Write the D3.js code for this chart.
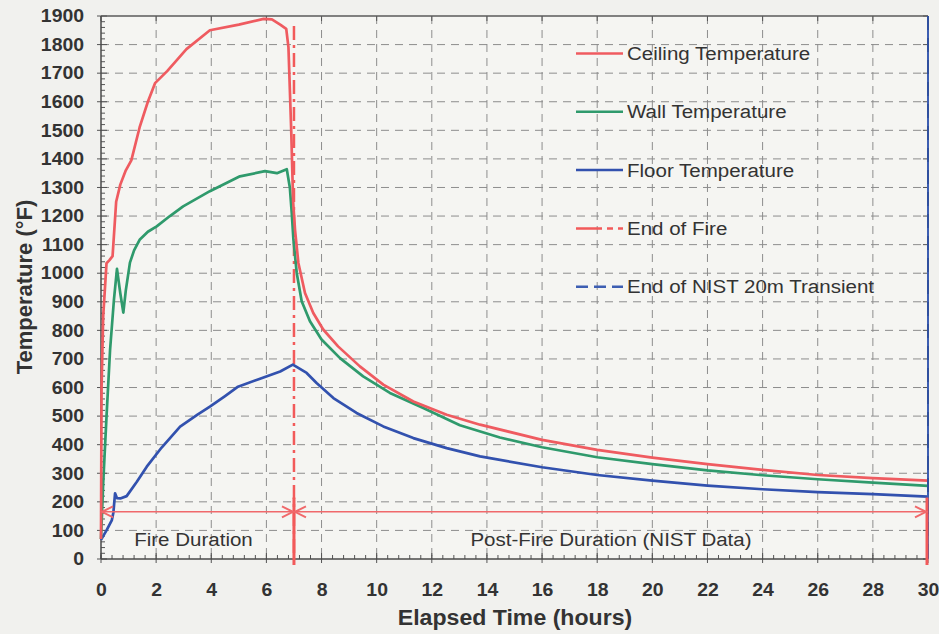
<!DOCTYPE html>
<html><head><meta charset="utf-8">
<script src="https://cdn.jsdelivr.net/npm/d3@7"></script>
<style>
html,body{margin:0;padding:0;background:#f1f1ee;}
svg{display:block;font-family:"Liberation Sans",Arial,sans-serif;}
</style></head><body>
<svg id="chart" width="939" height="634"></svg>
<script>
// ---- data (hours, °F) ----
const ceilingData = [[0,70],[0.02,600],[0.08,850],[0.2,1035],[0.3,1045],[0.42,1060],[0.55,1250],[0.7,1310],[0.9,1360],[1.1,1395],[1.4,1510],[1.7,1600],[1.96,1665],[2.4,1707],[3.1,1784],[3.95,1850],[5.0,1870],[5.9,1890],[6.2,1888],[6.5,1870],[6.72,1855],[6.8,1790],[6.9,1500],[6.97,1250],[7.04,1150],[7.16,1036],[7.4,931],[7.7,861],[8.06,803],[8.6,744],[9.39,674],[10.24,610],[11.33,551],[12.54,505],[13.75,470],[16,417],[18,382],[20,355],[22,332],[24,312],[26,294],[28,283],[30,274]];
const wallData = [[0,70],[0.08,266],[0.2,498],[0.33,733],[0.47,908],[0.58,1015],[0.7,930],[0.81,862],[0.9,940],[1.05,1037],[1.2,1080],[1.41,1118],[1.7,1145],[2.02,1164],[2.5,1200],[2.98,1234],[3.95,1287],[5.04,1339],[5.95,1357],[6.38,1350],[6.74,1364],[6.85,1300],[6.92,1210],[6.98,1118],[7.1,1001],[7.28,902],[7.58,832],[8.0,768],[8.67,703],[9.51,639],[10.48,581],[11.69,528],[13.02,468],[14.47,425],[16,391],[18,356],[20,332],[22,310],[24,293],[26,279],[28,267],[30,256]];
const floorData = [[0,67],[0.2,100],[0.39,135],[0.45,163],[0.51,230],[0.58,213],[0.7,212],[0.93,220],[1.3,270],[1.66,323],[2.2,390],[2.87,463],[3.5,505],[3.95,533],[4.5,570],[4.97,603],[5.77,631],[6.5,656],[6.96,680],[7.46,651],[7.82,616],[8.43,563],[9.27,511],[10.24,464],[11.33,423],[12.54,388],[13.75,359],[16,321],[18,294],[20,274],[22,257],[24,244],[26,234],[28,227],[30,218]];
const xTicks = [0,2,4,6,8,10,12,14,16,18,20,22,24,26,28,30];
const yTicks = [0,100,200,300,400,500,600,700,800,900,1000,1100,1200,1300,1400,1500,1600,1700,1800,1900];
const legendNames = ["Ceiling Temperature","Wall Temperature","Floor Temperature","End of Fire","End of NIST 20m Transient"];
const fireEnd = 7, nistEnd = 30, arrowTemp = 165, endFireTop = 1865, markerTop = 215;
const durationLabels = ["Fire Duration","Post-Fire Duration (NIST Data)"];

// ---- styles ----
const C = {ceil:"#ef5b60", wall:"#2f9a6c", floor:"#3251ae", fire:"#f25a5a", nist:"#3d5eb2", arrow:"#f0696b", grid:"#8d8d8d", text:"#333333"};
const SX = 1.08;

const svg = d3.select("#chart");
const x = d3.scaleLinear().domain([0,30]).range([101,928]);
const y = d3.scaleLinear().domain([0,1900]).range([559,16]);

svg.append("rect").attr("width",939).attr("height",634).attr("fill","#f1f1ee");
svg.append("rect").attr("x",x(0)).attr("y",y(1900)).attr("width",x(30)-x(0)).attr("height",y(0)-y(1900)).attr("fill","#f5f5f2");

// grid
const g = svg.append("g");
g.selectAll(".gv").data(xTicks.filter(d=>d>0&&d<30)).join("line")
  .attr("x1",d=>x(d)).attr("x2",d=>x(d)).attr("y1",y(1900)).attr("y2",y(0))
  .attr("stroke",C.grid).attr("stroke-width",1).attr("stroke-dasharray","8,6");
g.selectAll(".gh").data(yTicks.filter(d=>d>0&&d<1900)).join("line")
  .attr("x1",x(0)).attr("x2",x(30)).attr("y1",d=>y(d)).attr("y2",d=>y(d))
  .attr("stroke",C.grid).attr("stroke-width",1).attr("stroke-dasharray","8,6");

// minor ticks
const minorY = d3.range(0,1901,20);
g.selectAll(".my").data(minorY).join("line")
  .attr("x1",x(0)).attr("x2",d=>x(0)+(d%100===0?6:4)).attr("y1",d=>y(d)).attr("y2",d=>y(d))
  .attr("stroke","#555").attr("stroke-width",1);
const minorX = d3.range(0,30.01,0.4);
g.selectAll(".mx").data(minorX).join("line")
  .attr("x1",d=>x(d)).attr("x2",d=>x(d)).attr("y1",y(0)).attr("y2",y(0)-4)
  .attr("stroke","#555").attr("stroke-width",1);
g.selectAll(".tx").data(xTicks).join("line")
  .attr("x1",d=>x(d)).attr("x2",d=>x(d)).attr("y1",y(0)+4).attr("y2",y(0)-6)
  .attr("stroke","#555").attr("stroke-width",1);
g.selectAll(".tt").data(xTicks).join("line")
  .attr("x1",d=>x(d)).attr("x2",d=>x(d)).attr("y1",y(1900)).attr("y2",y(1900)+5)
  .attr("stroke","#555").attr("stroke-width",1);
g.selectAll(".tr").data(yTicks).join("line")
  .attr("x1",x(30)).attr("x2",x(30)-5).attr("y1",d=>y(d)).attr("y2",d=>y(d))
  .attr("stroke","#555").attr("stroke-width",1);
g.selectAll(".tl").data(yTicks).join("line")
  .attr("x1",x(0)-4).attr("x2",x(0)).attr("y1",d=>y(d)).attr("y2",d=>y(d))
  .attr("stroke","#555").attr("stroke-width",1);

// axes (labels)
const ya = svg.append("g").attr("transform",`translate(${x(0)},0)`)
  .call(d3.axisLeft(y).tickValues(yTicks).tickSize(0).tickPadding(15.7).tickFormat(d3.format("d")));
ya.select(".domain").remove();
ya.selectAll("text").attr("font-size",18).attr("font-weight","bold").attr("fill",C.text)
  .attr("font-family","Liberation Sans, Arial, sans-serif").attr("transform",`scale(${SX},1)`);
const xa = svg.append("g").attr("transform",`translate(0,${y(0)})`)
  .call(d3.axisBottom(x).tickValues(xTicks).tickSize(0).tickPadding(24).tickFormat(d3.format("d")));
xa.select(".domain").remove();
xa.selectAll("text").attr("font-size",18).attr("font-weight","bold").attr("fill",C.text)
  .attr("font-family","Liberation Sans, Arial, sans-serif").attr("transform",`scale(${SX},1)`);

// frame
svg.append("line").attr("x1",x(0)).attr("x2",x(30)).attr("y1",y(1900)).attr("y2",y(1900)).attr("stroke","#5a5a5a").attr("stroke-width",1.5);
svg.append("line").attr("x1",x(0)).attr("x2",x(0)).attr("y1",y(1900)).attr("y2",y(0)).attr("stroke","#4a4a4a").attr("stroke-width",1.5);
svg.append("line").attr("x1",x(0)).attr("x2",x(30)).attr("y1",y(0)).attr("y2",y(0)).attr("stroke","#4a4a4a").attr("stroke-width",1.5);

// end of fire (dash-dot)
svg.append("line").attr("x1",x(fireEnd)).attr("x2",x(fireEnd)).attr("y1",y(endFireTop)).attr("y2",y(0))
  .attr("stroke",C.fire).attr("stroke-width",2.5).attr("stroke-dasharray","14,5,3,5");

// curves
const line = d3.line().x(d=>x(d[0])).y(d=>y(d[1]));
[[floorData,C.floor],[wallData,C.wall],[ceilingData,C.ceil]].forEach(([d,c])=>{
  svg.append("path").datum(d).attr("d",line).attr("fill","none").attr("stroke",c).attr("stroke-width",2.7).attr("stroke-linejoin","round");
});

// end of NIST transient (right border)
svg.append("line").attr("x1",x(nistEnd)).attr("x2",x(nistEnd)).attr("y1",y(1900)).attr("y2",y(0))
  .attr("stroke",C.nist).attr("stroke-width",2);
svg.append("line").attr("x1",x(nistEnd)).attr("x2",x(nistEnd)).attr("y1",y(1900)).attr("y2",y(0))
  .attr("stroke","#2f4f9e").attr("stroke-width",2).attr("stroke-dasharray","14,8");

// duration markers
[fireEnd,nistEnd].forEach(t=>{
  svg.append("line").attr("x1",x(t)-(t===nistEnd?1:0)).attr("x2",x(t)-(t===nistEnd?1:0)).attr("y1",y(markerTop)).attr("y2",y(0)+6)
    .attr("stroke",C.fire).attr("stroke-width",3);
});
const ay = y(arrowTemp);
svg.append("line").attr("x1",x(0)).attr("x2",x(fireEnd)).attr("y1",ay).attr("y2",ay).attr("stroke",C.arrow).attr("stroke-width",1.5);
svg.append("line").attr("x1",x(fireEnd)).attr("x2",x(nistEnd)).attr("y1",ay).attr("y2",ay).attr("stroke",C.arrow).attr("stroke-width",1.5);
function head(px,dir){ // dir: +1 pointing right, -1 left
  svg.append("path").attr("d",`M${px-dir*11},${ay-5.5}L${px},${ay}L${px-dir*11},${ay+5.5}`)
    .attr("fill","none").attr("stroke",C.arrow).attr("stroke-width",2);
}
head(x(0)+1,-1); head(x(fireEnd)-1,1); head(x(fireEnd)+1,-1); head(x(nistEnd)-2,1);

function sText(px,py,str,size,weight,anchor,sx){
  svg.append("text").attr("transform",`translate(${px},${py}) scale(${sx},1)`)
    .attr("text-anchor",anchor).attr("font-size",size).attr("font-weight",weight).attr("fill",C.text).text(str);
}
sText((x(0)+x(fireEnd))/2-4,546,durationLabels[0],19,"normal","middle",SX);
sText((x(fireEnd)+x(nistEnd))/2,546,durationLabels[1],19,"normal","middle",SX);

// titles
sText(515,625,"Elapsed Time (hours)",22,"bold","middle",1.05);
svg.append("text").attr("transform","translate(32,287) rotate(-90)").attr("text-anchor","middle")
  .attr("font-size",22).attr("font-weight","bold").attr("fill",C.text).text("Temperature (°F)");

// legend
const legColors = [C.ceil,C.wall,C.floor,C.fire,C.nist];
const legDash = [null,null,null,"26,5,6,5","12,6,12,6,12"];
legendNames.forEach((n,i)=>{
  const ry = 53.5 + i*58.3;
  svg.append("line").attr("x1",576).attr("x2",623).attr("y1",ry).attr("y2",ry)
    .attr("stroke",legColors[i]).attr("stroke-width",2.5).attr("stroke-dasharray",legDash[i]);
  sText(627,ry+6.5,n,19,"normal","start",SX);
});
</script>
</body></html>
